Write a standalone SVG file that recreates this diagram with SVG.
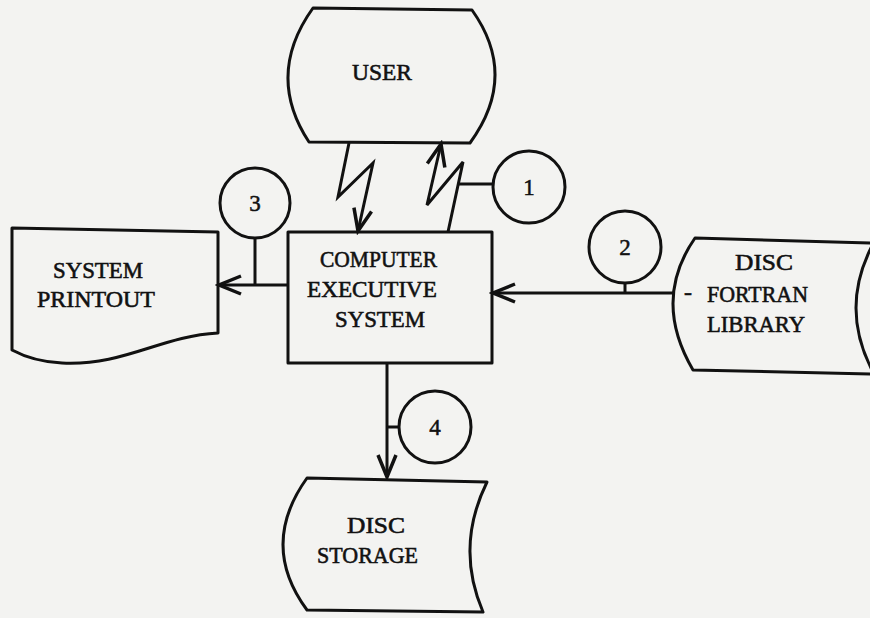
<svg xmlns="http://www.w3.org/2000/svg" width="870" height="618" viewBox="0 0 870 618">
<style>
.sh{fill:none;stroke:#111;stroke-width:3;stroke-linejoin:round}
.ln{fill:none;stroke:#111;stroke-width:3}
.t{font-family:"Liberation Serif","Times New Roman",serif;font-size:24px;fill:#111;stroke:#111;stroke-width:0.6}
.n{font-family:"Liberation Serif","Times New Roman",serif;font-size:23px;fill:#111;text-anchor:middle;stroke:#111;stroke-width:0.5}
</style>
<defs>
<marker id="arr" markerUnits="userSpaceOnUse" markerWidth="30" markerHeight="30" viewBox="-26 -13 30 26" refX="0" refY="0" orient="auto">
<path d="M-22,-9 L0,0 L-22,9" fill="none" stroke="#111" stroke-width="3.5"/>
</marker>
</defs>
<rect width="870" height="618" fill="#f3f3f1"/>
<g id="connectors">
<polyline class="ln" points="349,143 338,197 373,163 358,231" marker-end="url(#arr)"/>
<polyline class="ln" points="448,232 463,162 427,205 441,144" marker-end="url(#arr)"/>
<line class="ln" x1="459" y1="184" x2="493" y2="184"/>
<line class="ln" x1="255" y1="238" x2="255" y2="285"/>
<line class="ln" x1="288" y1="285" x2="219" y2="285" marker-end="url(#arr)"/>
<line class="ln" x1="625" y1="283" x2="625" y2="293"/>
<line class="ln" x1="673" y1="293" x2="493" y2="293" marker-end="url(#arr)"/>
<line class="ln" x1="387" y1="364" x2="387" y2="477" marker-end="url(#arr)"/>
<line class="ln" x1="387" y1="427" x2="399" y2="427"/>
</g>
<g id="user">
<path class="sh" d="M313,8 L472,10 Q519,76 470,143 L309,142 Q265,75 313,8 Z"/>
<text class="t" x="352" y="80" textLength="60" lengthAdjust="spacingAndGlyphs">USER</text>
</g>
<g id="computer">
<rect class="sh" x="288" y="232" width="204" height="131"/>
<text class="t" x="320" y="267" textLength="117" lengthAdjust="spacingAndGlyphs">COMPUTER</text>
<text class="t" x="307" y="297" textLength="130" lengthAdjust="spacingAndGlyphs">EXECUTIVE</text>
<text class="t" x="335" y="327" textLength="90" lengthAdjust="spacingAndGlyphs">SYSTEM</text>
</g>
<g id="printout">
<path class="sh" d="M12,228 L218,232 L218,333 C160,336 125,366 62,363 C40,362 25,357 12,350 Z"/>
<text class="t" x="53" y="278" textLength="90" lengthAdjust="spacingAndGlyphs">SYSTEM</text>
<text class="t" x="37" y="307" textLength="118" lengthAdjust="spacingAndGlyphs">PRINTOUT</text>
</g>
<g id="fortran">
<path class="sh" d="M872,243 L695,238 Q652,300 693,370 L872,374"/>
<path class="sh" d="M872,246 Q840,308 872,370"/>
<text class="t" x="684" y="300">-</text>
<text class="t" x="735" y="270" textLength="58" lengthAdjust="spacingAndGlyphs">DISC</text>
<text class="t" x="707" y="302" textLength="101" lengthAdjust="spacingAndGlyphs">FORTRAN</text>
<text class="t" x="707" y="332" textLength="98" lengthAdjust="spacingAndGlyphs">LIBRARY</text>
</g>
<g id="storage">
<path class="sh" d="M307,478 L487,482 Q455,547 483,612 L307,610 Q259,545 307,478 Z"/>
<text class="t" x="347" y="533" textLength="58" lengthAdjust="spacingAndGlyphs">DISC</text>
<text class="t" x="317" y="563" textLength="101" lengthAdjust="spacingAndGlyphs">STORAGE</text>
</g>
<g id="c1"><circle class="sh" cx="529" cy="187" r="36"/><text class="n" x="529" y="195">1</text></g>
<g id="c2"><circle class="sh" cx="625" cy="247" r="36"/><text class="n" x="625" y="255">2</text></g>
<g id="c3"><circle class="sh" cx="255" cy="203" r="35"/><text class="n" x="255" y="211">3</text></g>
<g id="c4"><circle class="sh" cx="435" cy="427" r="36"/><text class="n" x="435" y="435">4</text></g>
</svg>
